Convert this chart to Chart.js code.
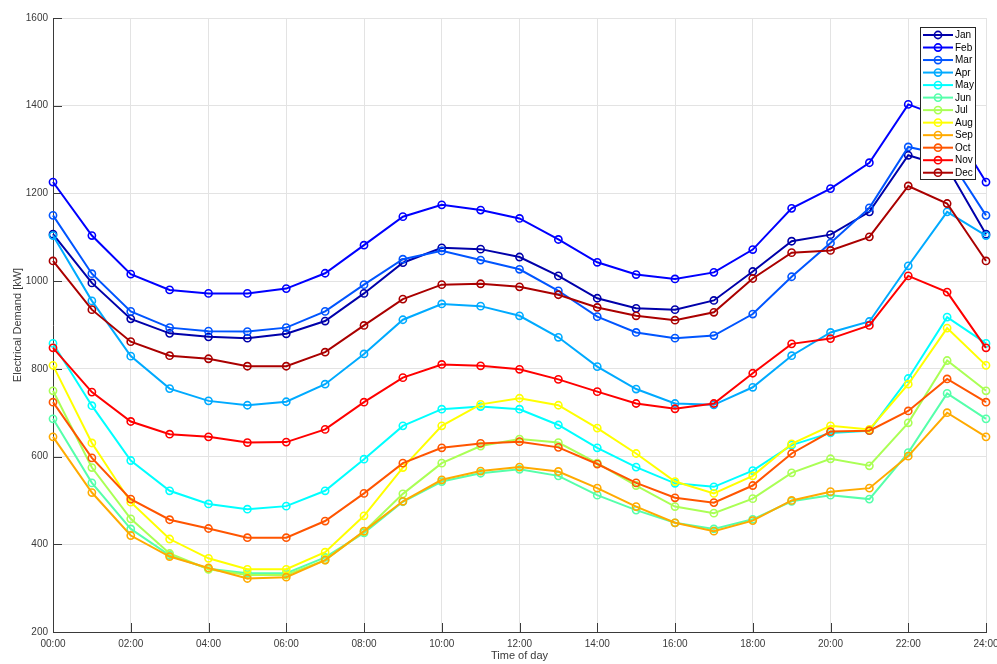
<!DOCTYPE html>
<html>
<head>
<meta charset="utf-8">
<title>Electrical Demand by Time of Day</title>
<script src="https://cdn.jsdelivr.net/npm/chart.js@4/dist/chart.umd.min.js"></script>
<style>
  html, body { margin: 0; padding: 0; background: #ffffff; }
  #wrap { width: 997px; height: 664px; position: relative; }
</style>
</head>
<body>
<div id="wrap"><canvas id="chart" width="997" height="664"></canvas></div>
<script>
// Hour-of-day categories (the last point repeats midnight)
const timeLabels = ['00:00','01:00','02:00','03:00','04:00','05:00','06:00','07:00','08:00','09:00','10:00','11:00','12:00',
                    '13:00','14:00','15:00','16:00','17:00','18:00','19:00','20:00','21:00','22:00','23:00','24:00'];

const months = ['Jan','Feb','Mar','Apr','May','Jun','Jul','Aug','Sep','Oct','Nov','Dec'];

// Average demand profile per month [kW]
const jan = [1107, 996, 914, 881, 873, 870, 880, 909, 972, 1042, 1076, 1073, 1055, 1012, 961, 938, 935, 956, 1022, 1091, 1106, 1158, 1287, 1260, 1107];
const feb = [1226, 1104, 1016, 980, 972, 972, 983, 1018, 1082, 1147, 1174, 1162, 1143, 1095, 1043, 1015, 1005, 1020, 1072, 1166, 1211, 1270, 1403, 1370, 1226];
const mar = [1150, 1017, 931, 894, 886, 885, 894, 931, 992, 1050, 1069, 1048, 1027, 978, 919, 883, 870, 876, 925, 1010, 1087, 1167, 1306, 1287, 1150];
const apr = [1104, 955, 829, 755, 727, 717, 725, 765, 834, 912, 948, 943, 921, 872, 805, 754, 721, 718, 758, 830, 883, 908, 1035, 1158, 1104];
const may = [858, 716, 591, 522, 492, 480, 487, 522, 594, 670, 708, 714, 708, 672, 620, 576, 539, 531, 568, 626, 654, 659, 778, 918, 858];
const jun = [686, 540, 435, 375, 344, 334, 334, 370, 426, 497, 543, 562, 571, 556, 512, 478, 449, 435, 457, 498, 512, 503, 609, 744, 686];
const jul = [750, 575, 458, 379, 343, 330, 330, 364, 429, 515, 585, 624, 640, 632, 585, 534, 486, 471, 504, 563, 595, 579, 677, 819, 750];
const aug = [808, 631, 496, 412, 368, 343, 343, 382, 465, 575, 670, 719, 733, 717, 665, 607, 543, 516, 556, 629, 670, 662, 765, 893, 808];
const sep = [645, 518, 420, 372, 346, 322, 325, 364, 430, 498, 547, 567, 576, 566, 528, 486, 449, 430, 454, 500, 520, 528, 601, 700, 645];
const oct = [724, 597, 503, 456, 436, 415, 415, 453, 516, 585, 620, 630, 634, 621, 583, 540, 506, 495, 534, 607, 657, 659, 704, 777, 724];
const nov = [848, 747, 680, 651, 645, 632, 633, 662, 724, 780, 810, 807, 799, 776, 748, 721, 709, 721, 790, 857, 869, 899, 1012, 975, 848];
const dec = [1046, 935, 862, 830, 823, 806, 806, 838, 899, 959, 992, 994, 987, 969, 940, 921, 911, 929, 1006, 1065, 1070, 1101, 1217, 1177, 1046];

const monthSeries = [jan, feb, mar, apr, may, jun, jul, aug, sep, oct, nov, dec];

// Jet colour map, 12 steps
const jetColors = ['#0000aa','#0000ff','#0055ff','#00aaff','#00ffff','#55ffaa',
                   '#aaff55','#ffff00','#ffaa00','#ff5500','#ff0000','#aa0000'];

// y-axis range
const yMin = 200, yMax = 1600, yStep = 200;

const FONT = "'Liberation Sans', Arial, Helvetica, sans-serif";
const AXIS_COLOR = '#3a3a3a';
const GRID_COLOR = '#e3e3e3';
const TEXT_COLOR = '#3a3a3a';

const datasets = monthSeries.map((vals, i) => ({
  label: months[i],
  data: vals,
  borderColor: jetColors[i],
  backgroundColor: 'rgba(0,0,0,0)',
  borderWidth: 2,
  pointStyle: 'circle',
  pointRadius: 3.6,
  pointBorderWidth: 1.6,
  pointBorderColor: jetColors[i],
  pointBackgroundColor: 'rgba(0,0,0,0)',
  tension: 0,
  fill: false,
  order: 12 - i   // later months are drawn on top
}));

// Short tick marks pointing into the plot area
const innerTicks = {
  id: 'innerTicks',
  beforeDatasetsDraw(chart) {
    const { ctx, chartArea, scales } = chart;
    const len = 9;
    ctx.save();
    ctx.strokeStyle = AXIS_COLOR;
    ctx.lineWidth = 1;
    ctx.beginPath();
    scales.x.ticks.forEach((t, i) => {
      if (i % 2 !== 0) return;
      const x = Math.round(scales.x.getPixelForTick(i)) + 0.5;
      ctx.moveTo(x, chartArea.bottom);
      ctx.lineTo(x, chartArea.bottom - len);
    });
    scales.y.ticks.forEach((t, i) => {
      const y = Math.round(scales.y.getPixelForTick(i)) + 0.5;
      ctx.moveTo(chartArea.left, y);
      ctx.lineTo(chartArea.left + len, y);
    });
    ctx.stroke();
    ctx.restore();
  }
};

// Boxed legend in the upper right corner of the plot area
const boxLegend = {
  id: 'boxLegend',
  afterDraw(chart) {
    const { ctx, chartArea } = chart;
    const boxW = 55, boxH = 152;
    const right = chartArea.right - 11;
    const left = right - boxW;
    const top = chartArea.top + 9;
    const rowH = 12.52;
    ctx.save();
    ctx.fillStyle = '#ffffff';
    ctx.fillRect(left, top, boxW, boxH);
    ctx.strokeStyle = '#262626';
    ctx.lineWidth = 1;
    ctx.strokeRect(Math.round(left) + 0.5, Math.round(top) + 0.5, boxW, boxH);
    ctx.font = '10px ' + FONT;
    ctx.textBaseline = 'middle';
    ctx.textAlign = 'left';
    chart.data.datasets.forEach((ds, i) => {
      const y = top + 8 + i * rowH;
      const x0 = left + 3, x1 = left + 33;
      ctx.strokeStyle = ds.borderColor;
      ctx.lineWidth = 2;
      ctx.beginPath();
      ctx.moveTo(x0, y);
      ctx.lineTo(x1, y);
      ctx.stroke();
      ctx.lineWidth = 1.6;
      ctx.beginPath();
      ctx.arc((x0 + x1) / 2, y, 3.6, 0, Math.PI * 2);
      ctx.stroke();
      ctx.fillStyle = '#000000';
      ctx.fillText(ds.label, left + 35, y + 0.5);
    });
    ctx.restore();
  }
};

new Chart(document.getElementById('chart'), {
  type: 'line',
  data: { labels: timeLabels, datasets },
  plugins: [innerTicks, boxLegend],
  options: {
    responsive: false,
    animation: false,
    layout: { padding: { top: 18, right: 11, left: 0, bottom: 0 } },
    plugins: {
      legend: { display: false },
      tooltip: { enabled: false },
      title: { display: false }
    },
    scales: {
      x: {
        type: 'category',
        offset: false,
        afterFit(scale) {
          scale.height = 32;
          scale.paddingLeft = 0;
          scale.paddingRight = 0;
        },
        border: { display: true, color: AXIS_COLOR, width: 1 },
        grid: {
          drawTicks: false,
          color: (c) => (c.index % 2 === 0 ? GRID_COLOR : 'rgba(0,0,0,0)'),
          lineWidth: 1
        },
        ticks: {
          autoSkip: false,
          maxRotation: 0,
          minRotation: 0,
          padding: 6,
          color: TEXT_COLOR,
          font: { family: FONT, size: 10 },
          callback: (v, i) => (i % 2 === 0 ? timeLabels[i] : '')
        },
        title: {
          display: true,
          text: 'Time of day',
          color: TEXT_COLOR,
          font: { family: FONT, size: 11 },
          padding: { top: 0, bottom: 1 }
        }
      },
      y: {
        min: yMin,
        max: yMax,
        afterFit(scale) {
          scale.width = 53;
          scale.paddingTop = 0;
          scale.paddingBottom = 0;
        },
        border: { display: true, color: AXIS_COLOR, width: 1 },
        grid: { drawTicks: false, color: GRID_COLOR, lineWidth: 1 },
        ticks: {
          stepSize: yStep,
          padding: 5,
          color: TEXT_COLOR,
          font: { family: FONT, size: 10 },
          callback: (v) => String(v)
        },
        title: {
          display: true,
          text: 'Electrical Demand [kW]',
          color: TEXT_COLOR,
          font: { family: FONT, size: 11 },
          padding: { top: 11, bottom: 0 }
        }
      }
    }
  }
});
</script>
</body>
</html>
